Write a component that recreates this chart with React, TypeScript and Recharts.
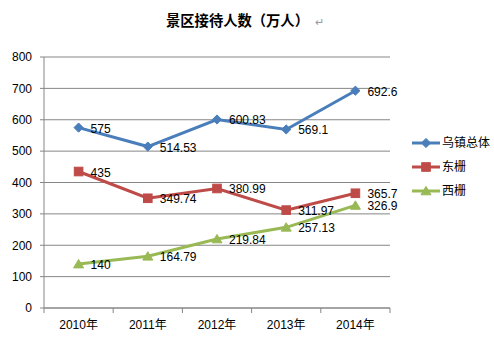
import React from 'react';
import { LineChart, Line, XAxis, YAxis, CartesianGrid, Legend, LabelList } from 'recharts';

const years = ['2010年', '2011年', '2012年', '2013年', '2014年'];
const wuzhen = [575, 514.53, 600.83, 569.1, 692.6];
const dongzha = [435, 349.74, 380.99, 311.97, 365.7];
const xizha = [140, 164.79, 219.84, 257.13, 326.9];
const yTicks = [0, 100, 200, 300, 400, 500, 600, 700, 800];
const seriesNames = ['乌镇总体', '东栅', '西栅'];
const titleText = '景区接待人数（万人）';

const data = years.map((y, i) => ({ year: y, a: wuzhen[i], b: dongzha[i], c: xizha[i] }));

const COLORS = ['#4A7EBB', '#BE4B48', '#98B954'];
const AXIS = '#868686';
const FONT = '"Liberation Sans", Arial, "Noto Sans CJK SC", sans-serif';
const HALF_BAND = 34.6;

function marker(kind: number, cx: number, cy: number, color: string, key?: string) {
  if (kind === 0) {
    const r = 4.6;
    return <polygon key={key} points={`${cx},${cy - r} ${cx + r},${cy} ${cx},${cy + r} ${cx - r},${cy}`} fill={color} stroke={color} />;
  }
  if (kind === 1) {
    const s = 4.3;
    return <rect key={key} x={cx - s} y={cy - s} width={2 * s} height={2 * s} fill={color} stroke={color} />;
  }
  const r = 4.6;
  return <polygon key={key} points={`${cx},${cy - r} ${cx + r + 0.4},${cy + r - 0.8} ${cx - r - 0.4},${cy + r - 0.8}`} fill={color} stroke={color} />;
}

const makeDot = (kind: number) => (props: any) => {
  const { cx, cy, index } = props;
  if (cx == null || cy == null) return <g key={`d${kind}-${index}`} />;
  return <g key={`d${kind}-${index}`}>{marker(kind, cx, cy, COLORS[kind])}</g>;
};

const makeLabel = () => (props: any) => {
  const { x, y, value } = props;
  return (
    <text x={x + 12} y={y + 1} fontSize={12} fontFamily={FONT} fill="#000" dominantBaseline="central">
      {value}
    </text>
  );
};

const XTick = (props: any) => {
  const { x, y, payload, index } = props;
  return (
    <g>
      <line x1={x + HALF_BAND} x2={x + HALF_BAND} y1={y} y2={y + 5} stroke={AXIS} />
      {index === 0 && <line x1={x - HALF_BAND} x2={x - HALF_BAND} y1={y} y2={y + 5} stroke={AXIS} />}
      <text x={x} y={y + 17} textAnchor="middle" dominantBaseline="central" fontSize={12} fontFamily={FONT} fill="#000">
        {payload.value}
      </text>
    </g>
  );
};

const LegendContent = () => (
  <div>
    {seriesNames.map((n, i) => (
      <div key={n} style={{ height: 24, display: 'flex', alignItems: 'center' }}>
        <svg width={29} height={12} style={{ display: 'block' }}>
          <line x1={0} x2={28} y1={6} y2={6} stroke={COLORS[i]} strokeWidth={3} />
          {marker(i, 14, 6, COLORS[i])}
        </svg>
        <span style={{ fontSize: 12, fontFamily: FONT, color: '#000', marginLeft: 1, lineHeight: '12px' }}>{n}</span>
      </div>
    ))}
  </div>
);

export default function App() {
  return (
    <div style={{ position: 'relative', width: 494, height: 353, background: '#fff' }}>
      <style>{'body{margin:0}'}</style>
      <div
        style={{
          position: 'absolute',
          left: 166,
          top: 9,
          fontSize: 14.3,
          fontWeight: 'bold',
          fontFamily: '"Noto Sans CJK SC", sans-serif',
          color: '#000',
          whiteSpace: 'nowrap',
          lineHeight: '22px',
        }}
      >
        {titleText}
        <span style={{ fontWeight: 'normal', color: '#999', fontSize: 11, marginLeft: 6 }}>↵</span>
      </div>
      <LineChart width={494} height={353} data={data} margin={{ top: 57, right: 104, bottom: 15, left: 4 }}>
        <CartesianGrid horizontal vertical={false} stroke={AXIS} strokeWidth={1} />
        <XAxis
          dataKey="year"
          height={30}
          padding={{ left: HALF_BAND, right: HALF_BAND }}
          tickLine={false}
          tickSize={0}
          tickMargin={0}
          axisLine={{ stroke: AXIS }}
          tick={<XTick />}
          interval={0}
        />
        <YAxis
          width={40}
          domain={[0, 800]}
          ticks={yTicks}
          interval={0}
          tickSize={4}
          tickMargin={8}
          tickLine={{ stroke: AXIS }}
          axisLine={{ stroke: AXIS }}
          tick={{ fontSize: 12, fontFamily: FONT, fill: '#000' }}
        />
        <Legend
          layout="horizontal"
          verticalAlign="middle"
          align="center"
          content={<LegendContent />}
          wrapperStyle={{ position: 'absolute', left: 412, top: 131, width: 82 }}
        />
        <Line dataKey="a" name={seriesNames[0]} stroke={COLORS[0]} strokeWidth={3} dot={makeDot(0)} activeDot={false} isAnimationActive={false}>
          <LabelList dataKey="a" content={makeLabel()} />
        </Line>
        <Line dataKey="b" name={seriesNames[1]} stroke={COLORS[1]} strokeWidth={3} dot={makeDot(1)} activeDot={false} isAnimationActive={false}>
          <LabelList dataKey="b" content={makeLabel()} />
        </Line>
        <Line dataKey="c" name={seriesNames[2]} stroke={COLORS[2]} strokeWidth={3} dot={makeDot(2)} activeDot={false} isAnimationActive={false}>
          <LabelList dataKey="c" content={makeLabel()} />
        </Line>
      </LineChart>
    </div>
  );
}
